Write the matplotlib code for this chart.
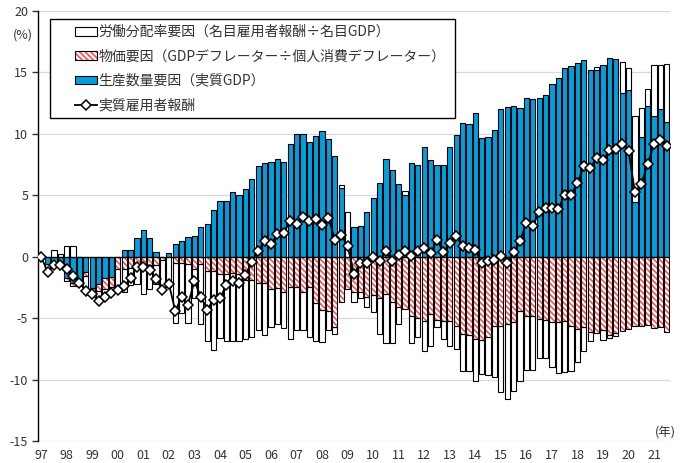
import numpy as np
import matplotlib.pyplot as plt
from matplotlib.patches import Patch, Rectangle
from matplotlib.lines import Line2D

plt.rcParams['font.family'] = ['Noto Sans CJK JP', 'DejaVu Sans']
plt.rcParams['axes.unicode_minus'] = False
plt.rcParams['hatch.linewidth'] = 1.2

# quarterly, 1997Q1 - 2021Q3
years = ['97', '98', '99', '00', '01', '02', '03', '04', '05', '06', '07', '08', '09',
         '10', '11', '12', '13', '14', '15', '16', '17', '18', '19', '20', '21']

# 生産数量要因（実質GDP）
blue = [0, -0.6, -0.45, -0.55, -1.75, -2.15, -2.05, -1.25, -2.55, -2.2,
        -1.75, -1.65, 0, 0.55, 0.55, 1.5, 2.2, 1.5, 0.35, 0,
        0.3, 1.0, 1.3, 1.6, 1.65, 2.4, 2.7, 3.8, 4.55, 4.55,
        5.25, 5.0, 5.5, 6.35, 7.4, 7.6, 7.75, 7.95, 7.75, 9.2,
        10.0, 10.0, 9.35, 9.8, 10.25, 9.6, 8.2, 5.6, 0, 2.45,
        2.47, 3.66, 4.77, 6.04, 7.94, 7.07, 5.9, 4.99, 7.6, 7.43,
        8.9, 7.9, 7.48, 7.43, 8.9, 9.92, 10.92, 10.8, 11.73, 9.7,
        9.76, 10.33, 12.0, 12.2, 12.3, 12.1, 12.9, 12.8, 12.9, 13.16,
        14.06, 14.55, 15.36, 15.55, 15.74, 16.04, 15.2, 15.2, 15.6, 16.17,
        16.09, 13.3, 13.57, 4.42, 9.77, 12.3, 11.48, 12.0, 11.0]

# 物価要因（GDPデフレーター÷個人消費デフレーター）
red = [0, -0.3, -0.25, 0, -0.2, -0.2, 0, -0.35, -0.2, -0.55,
       -0.87, -0.8, -1.0, -1.0, -0.95, -0.6, -0.6, -0.7, -0.7, -0.3,
       -0.05, -0.5, -0.5, -0.6, -1.0, -0.6, -1.15, -1.15, -1.4, -1.4,
       -1.35, -1.4, -1.87, -1.9, -2.1, -2.15, -2.6, -2.55, -2.9, -2.5,
       -2.5, -2.85, -2.5, -3.75, -4.3, -4.4, -5.75, -3.7, -2.6, -2.9,
       -2.9, -3.3, -3.1, -3.36, -3.03, -3.7, -4.1, -4.25, -4.8, -5.0,
       -5.2, -4.66, -5.15, -5.2, -5.26, -5.6, -6.3, -6.4, -6.7, -6.78,
       -6.56, -5.6, -5.66, -5.5, -5.3, -4.4, -4.8, -4.8, -5.07, -5.16,
       -5.35, -5.35, -5.2, -5.6, -5.9, -5.75, -6.16, -6.24, -6.0, -6.35,
       -6.24, -6.08, -5.9, -5.62, -5.62, -5.54, -5.8, -5.7, -6.16]

# 労働分配率要因（名目雇用者報酬÷名目GDP）
white = [0, -0.35, 0.55, 0.25, 0.87, 0.85, 0, -1.15, -0.3, -0.8,
         -0.68, -0.5, -1.7, -1.9, -1.35, -1.6, -2.4, -1.9, -1.5, -2.4,
         -2.45, -4.9, -4.1, -4.8, -2.4, -4.9, -5.75, -6.45, -5.25, -5.45,
         -5.5, -5.45, -4.83, -4.65, -3.9, -4.25, -3.15, -2.95, -2.9, -4.2,
         -3.5, -3.1, -4.0, -3.1, -2.65, -1.6, -0.5, 0.2, 3.6, -0.8,
         -0.5, -0.8, -1.4, -2.94, -3.97, -3.3, -1.4, 0.38, -2.25, -1.5,
         -2.5, -2.58, -0.6, -1.5, -1.98, -1.9, -3.0, -2.9, -3.4, -2.76,
         -3.1, -4.15, -5.34, -6.1, -5.6, -5.7, -4.4, -4.45, -3.2, -3.1,
         -3.65, -4.15, -4.15, -3.7, -2.7, -1.9, -0.7, 0.27, -0.8, -0.3,
         -0.2, 2.57, 1.8, 7.0, 2.33, 1.36, 4.12, 3.6, 4.67]

# 実質雇用者報酬
total = [0, -1.25, -0.7, -0.7, -1.0, -1.6, -2.15, -2.75, -3.07, -3.6,
         -3.3, -2.96, -2.7, -2.4, -1.75, -0.8, -0.8, -1.1, -1.8, -2.7,
         -2.2, -4.4, -3.3, -3.9, -2.0, -3.25, -4.3, -3.5, -3.4, -2.3,
         -1.95, -2.15, -1.5, -0.4, 0.5, 1.25, 1.0, 1.85, 1.95, 2.9,
         2.7, 3.25, 2.9, 3.05, 2.6, 3.15, 1.4, 1.75, 0.87, -1.4,
         -0.5, -0.5, -0.05, -0.35, 0.43, -0.35, 0.13, 0.43, 0.03, 0.5,
         0.68, 0.27, 1.35, 0.4, 1.1, 1.7, 0.84, 0.7, 0.57, -0.5,
         -0.33, -0.25, 0.03, -0.5, 0.35, 1.25, 2.74, 2.47, 3.66, 3.96,
         4.0, 3.88, 5.05, 5.05, 6.0, 7.4, 7.2, 8.0, 7.87, 8.66,
         8.74, 9.17, 8.63, 5.3, 5.9, 7.54, 9.17, 9.5, 8.98]

labels = ['労働分配率要因（名目雇用者報酬÷名目GDP）',
          '物価要因（GDPデフレーター÷個人消費デフレーター）',
          '生産数量要因（実質GDP）',
          '実質雇用者報酬']

c_blue = '#00A0DF'
c_hatch = '#FF5050'
hatch = '\\\\\\\\\\\\'

x = np.arange(len(blue))
w = 0.82

fig = plt.figure(figsize=(6.87, 4.63), dpi=100)
ax = fig.add_axes([38 / 687, 1 - 441 / 463, 632 / 687, 430 / 463])

# excel-style stacking: positives up, negatives down
pos = np.zeros(len(x))
neg = np.zeros(len(x))
bottoms = []
for vals in [blue, red, white]:
    v = np.array(vals, dtype=float)
    b = np.where(v >= 0, pos, neg)
    bottoms.append(b)
    pos = pos + np.where(v >= 0, v, 0)
    neg = neg + np.where(v < 0, v, 0)

ax.bar(x, blue, bottom=bottoms[0], width=w, color=c_blue, edgecolor='black', linewidth=0.8, zorder=2)
ax.bar(x, red, bottom=bottoms[1], width=w, color='white', edgecolor=c_hatch, hatch=hatch, linewidth=0, zorder=2)
ax.bar(x, red, bottom=bottoms[1], width=w, fill=False, edgecolor='black', linewidth=0.8, zorder=2.1)
ax.bar(x, white, bottom=bottoms[2], width=w, color='white', edgecolor='black', linewidth=0.8, zorder=2)

ax.axhline(0, color='black', linewidth=0.9, zorder=2.5)
ax.plot(x, total, color='black', linewidth=1.3, marker='D', markersize=5.5,
        markerfacecolor='white', markeredgecolor='black', markeredgewidth=1.1, zorder=3)

ax.set_xlim(-0.5, len(x) - 0.5)
ax.set_ylim(-15, 20)
ax.set_yticks(np.arange(-15, 21, 5))
ax.grid(axis='y', color='#d9d9d9', linewidth=0.9, zorder=0)
ax.set_axisbelow(True)
for s in ['top', 'right', 'bottom']:
    ax.spines[s].set_visible(False)
ax.spines['left'].set_linewidth(1.0)
ax.tick_params(axis='y', direction='out', length=4, width=1, labelsize=9, colors='#333333', pad=3)
ax.tick_params(axis='x', length=0, labelsize=9, colors='#333333', pad=6)
ax.set_xticks(np.arange(0, len(x), 4))
ax.set_xticklabels(years)

fig.text(13 / 687, 1 - 35 / 463, '(%)', fontsize=9, color='#333333', va='center')
fig.text(655 / 687, 1 - 433 / 463, '(年)', fontsize=9, color='#333333', va='center')

# legend box
fig.patches.append(Rectangle((50 / 687, 1 - 118 / 463), 405 / 687, 99 / 463,
                             transform=fig.transFigure, facecolor='white',
                             edgecolor='black', linewidth=1.0, zorder=1))

handles = [Patch(facecolor='white', edgecolor='black', linewidth=0.8),
           (Patch(facecolor='white', edgecolor=c_hatch, hatch=hatch, linewidth=0),
            Patch(fill=False, edgecolor='black', linewidth=0.8)),
           Patch(facecolor=c_blue, edgecolor='black', linewidth=0.8),
           Line2D([], [], color='black', linewidth=1.3, marker='D', markersize=5.5,
                  markerfacecolor='white', markeredgecolor='black', markeredgewidth=1.1)]
leg = fig.legend(handles, labels, loc='upper left', bbox_to_anchor=(75 / 687, 1 - 25 / 463),
                 bbox_transform=fig.transFigure, fontsize=10, frameon=False,
                 borderpad=0, labelspacing=0.75, handlelength=1.6, handleheight=0.6,
                 handletextpad=0.1, borderaxespad=0)
for t in leg.get_texts():
    t.set_color('#333333')

fig.savefig('out.png', dpi=100)
